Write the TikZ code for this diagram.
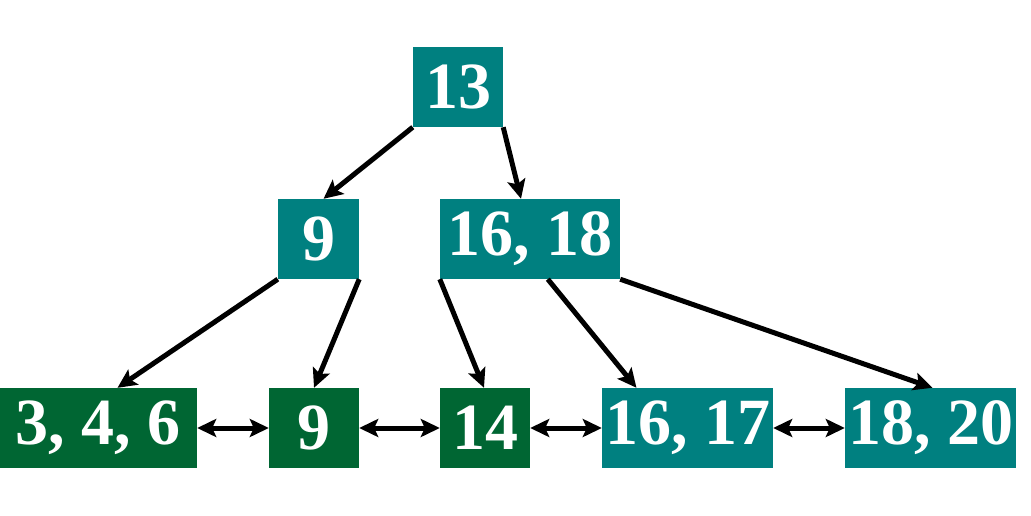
\documentclass[tikz,border=0pt]{standalone}
\usepackage{fontspec}
\setmainfont{Liberation Serif}
\usetikzlibrary{arrows.meta}
\definecolor{tealbox}{RGB}{0,128,128}
\definecolor{leafgreen}{RGB}{0,102,51}
\tikzset{>={Stealth[length=19pt,width=18pt,inset=4pt]}}
\begin{document}
\begin{tikzpicture}[x=1pt,y=-1pt,
  key/.style={fill=tealbox,text=white,inner sep=0pt,minimum height=80pt,
    font=\fontsize{66}{66}\selectfont\bfseries},
  leaf/.style={key,fill=leafgreen},
  link/.style={line width=5pt,->},
  sib/.style={line width=5pt,<->}]
\useasboundingbox (0,0) rectangle (1031,516);
% root and inner level
\node[key,minimum width=90pt]  (n13)   at (458,87)   {13};
\node[key,minimum width=81pt]  (m9)    at (318.5,239) {9};
\node[key,minimum width=180pt] (m1618) at (530,239)  {16, 18};
% leaf level
\node[leaf,minimum width=197pt] (l346)  at (98.5,428) {3, 4, 6};
\node[leaf,minimum width=90pt]  (l9)    at (314,428)  {9};
\node[leaf,minimum width=90pt]  (l14)   at (485,428)  {14};
\node[key,minimum width=171pt]  (l1617) at (687.5,428) {16, 17};
\node[key,minimum width=171pt]  (l1820) at (930.5,428) {18, 20};
% tree pointers
\draw[link] (n13.south west) -- ([xshift=5pt]m9.north);
\draw[link] (n13.south east) -- ([xshift=-9pt]m1618.north);
\draw[link] (m9.south west) -- ([xshift=19pt]l346.north);
\draw[link] (m9.south east) -- (l9.north);
\draw[link] (m1618.south west) -- ([xshift=-1pt]l14.north);
\draw[link] ([xshift=108pt]m1618.south west) -- ([xshift=-51pt]l1617.north);
\draw[link] (m1618.south east) -- ([xshift=2pt]l1820.north);
% sibling links between leaves
\draw[sib] (l346.east) -- (l9.west);
\draw[sib] (l9.east) -- (l14.west);
\draw[sib] (l14.east) -- (l1617.west);
\draw[sib] (l1617.east) -- (l1820.west);
\end{tikzpicture}
\end{document}
